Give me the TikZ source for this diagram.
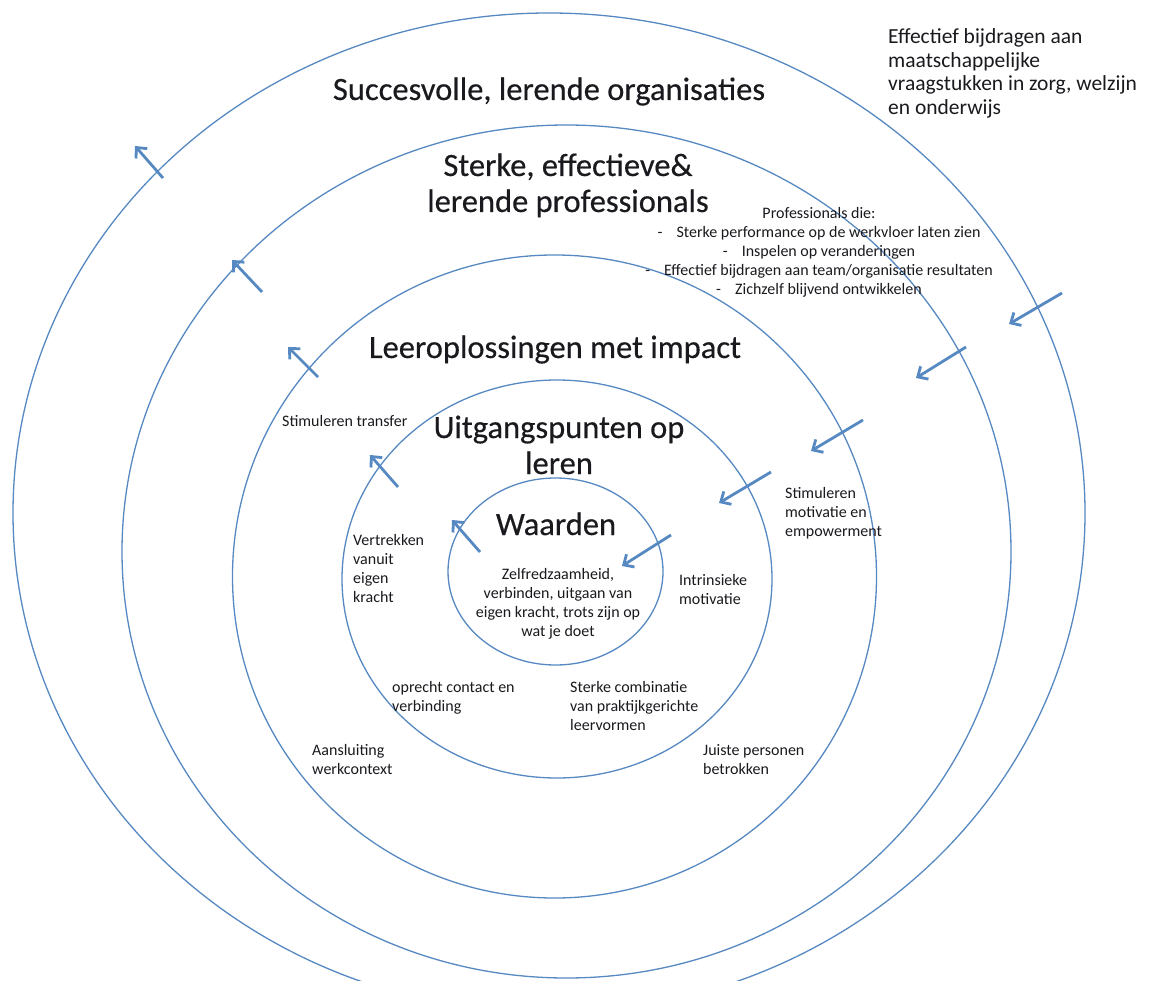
\documentclass[tikz,border=0pt]{standalone}
\usepackage{fontspec}
\setmainfont{Carlito}
\newfontfamily\headfont{Carlito}[FakeBold=0.4]
\usetikzlibrary{arrows.meta}
\definecolor{ringblue}{RGB}{86,136,193}
\definecolor{inkdark}{RGB}{25,25,30}

\begin{document}
\begin{tikzpicture}[x=1pt,y=-1pt,
	ring/.style={draw=ringblue, line width=1.3pt},
	flow/.style={draw=ringblue, line width=2.8pt, -{Straight Barb[length=8pt,width=15pt]}},
	title/.style={font=\headfont\fontsize{32.5}{36}\selectfont, text=inkdark, align=center, inner sep=0pt, anchor=base},
	note/.style={font=\fontsize{16}{19}\selectfont, text=inkdark, align=left, inner sep=0pt, anchor=base west}]

	\useasboundingbox (0,0) rectangle (1156,981);
	\clip (0,0) rectangle (1156,981);

	% the five rings
	\draw[ring] (549,513) ellipse (536 and 500);
	\draw[ring] (566.5,551.5) ellipse (444.5 and 426.5);
	\draw[ring] (554.5,576.5) ellipse (322 and 321.5);
	\draw[ring] (557,579) ellipse (215 and 199);
	\draw[ring] (555.5,571.5) ellipse (107.5 and 93.5);

	% multi-line nodes sit on the baseline of their last line
	\node (T1)[title] at (549,100) {Succesvolle, lerende organisaties};
	\node (T2)[title] at (568,212) {Sterke, effectieve\&\\lerende professionals};
	\node (T3)[title] at (555,358) {Leeroplossingen met impact};
	\node (T4)[title] at (559,474) {Uitgangspunten op\\leren};
	\node (T5)[title] at (556,535) {Waarden};

	\node (W1)[note, align=center, anchor=base] at (558,636) {Zelfredzaamheid,\\verbinden, uitgaan van\\eigen kracht, trots zijn op\\wat je doet};

	\node (P1)[note, align=center, anchor=base] at (819,295) {Professionals die:\\
		-\hspace{14pt}Sterke performance op de werkvloer laten zien\\
		-\hspace{14pt}Inspelen op veranderingen\\
		-\hspace{14pt}Effectief bijdragen aan team/organisatie resultaten\\
		-\hspace{14pt}Zichzelf blijvend ontwikkelen};

	\node (M1)[note, font=\fontsize{21.5}{23.5}\selectfont] at (888,114.5) {Effectief bijdragen aan\\maatschappelijke\\vraagstukken in zorg, welzijn\\en onderwijs};

	\node (N1)[note] at (282,426) {Stimuleren transfer};
	\node (N2)[note] at (353,602) {Vertrekken\\vanuit\\eigen\\kracht};
	\node (N3)[note] at (679,604) {Intrinsieke\\motivatie};
	\node (N4)[note] at (785,536) {Stimuleren\\motivatie en\\empowerment};
	\node (N5)[note] at (392,711) {oprecht contact en\\verbinding};
	\node (N6)[note] at (570,730) {Sterke combinatie\\van praktijkgerichte\\leervormen};
	\node (N7)[note] at (312,774) {Aansluiting\\werkcontext};
	\node (N8)[note] at (703,774) {Juiste personen\\betrokken};

	% outward arrows, left
	\coordinate (a1) at (163,178);  \coordinate (b1) at (135,146);
	\coordinate (a2) at (262,292);  \coordinate (b2) at (232,260);
	\coordinate (a3) at (318,377);  \coordinate (b3) at (288,347);
	\coordinate (a4) at (398,487);  \coordinate (b4) at (370,455);
	\coordinate (a5) at (480,552);  \coordinate (b5) at (452,520);
	% inward arrows, right
	\coordinate (c1) at (1062,293); \coordinate (d1) at (1009,324);
	\coordinate (c2) at (966,347);  \coordinate (d2) at (916,378);
	\coordinate (c3) at (863,420);  \coordinate (d3) at (811,451);
	\coordinate (c4) at (771,472);  \coordinate (d4) at (719,503);
	\coordinate (c5) at (671,535);  \coordinate (d5) at (622,566);

	\draw[flow] (a1) -- (b1);
	\draw[flow] (a2) -- (b2);
	\draw[flow] (a3) -- (b3);
	\draw[flow] (a4) -- (b4);
	\draw[flow] (a5) -- (b5);
	\draw[flow] (c1) -- (d1);
	\draw[flow] (c2) -- (d2);
	\draw[flow] (c3) -- (d3);
	\draw[flow] (c4) -- (d4);
	\draw[flow] (c5) -- (d5);

\end{tikzpicture}
\end{document}
